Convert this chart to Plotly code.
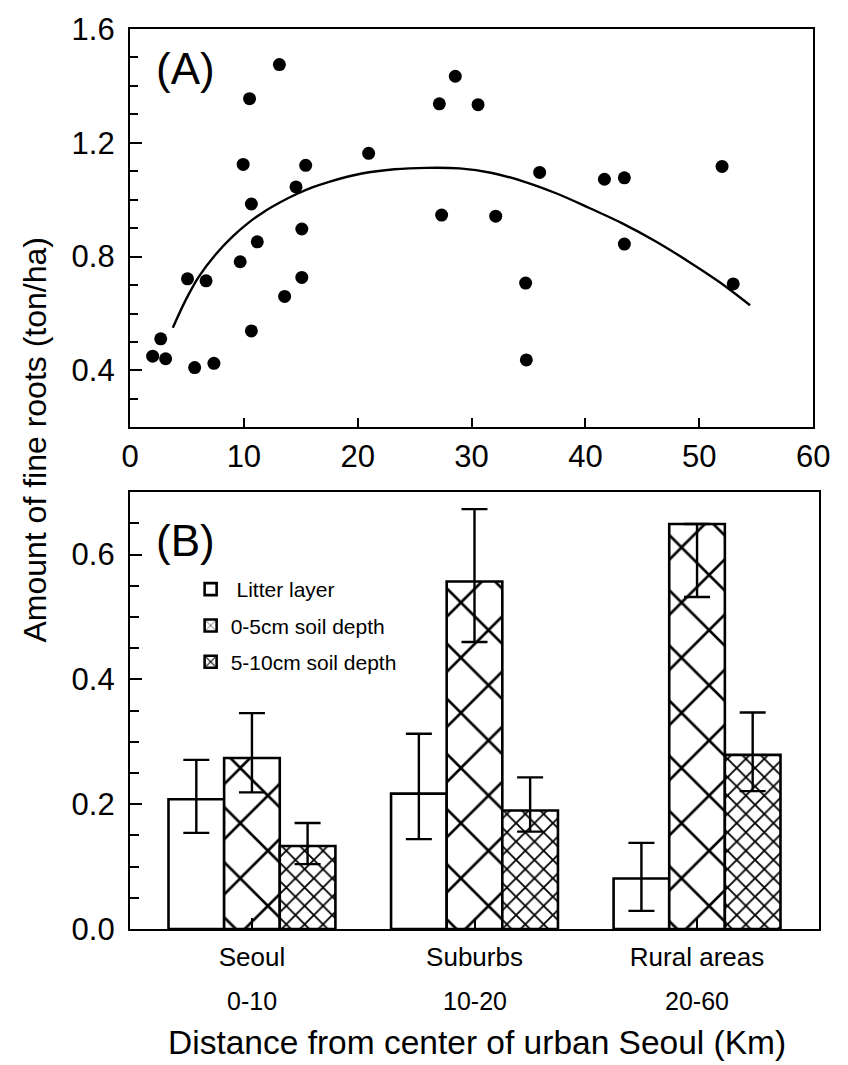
import plotly.graph_objects as go

# ---------------- Panel A data ----------------
dist_km = [1.99, 2.70, 3.13, 5.05, 5.68, 6.68, 7.37, 9.68, 9.94, 10.5, 10.66, 10.66,
           11.18, 13.12, 13.58, 14.58, 15.09, 15.09, 15.43, 20.96, 27.17, 27.37,
           28.57, 30.57, 32.12, 34.75, 34.81, 35.98, 41.67, 43.42, 43.42, 52.0, 52.98]
fine_roots = [0.450, 0.511, 0.441, 0.722, 0.410, 0.715, 0.425, 0.782, 1.124, 1.355,
              0.985, 0.539, 0.852, 1.475, 0.660, 1.045, 0.897, 0.727, 1.121, 1.163,
              1.337, 0.946, 1.434, 1.334, 0.942, 0.707, 0.437, 1.096, 1.072, 1.077,
              0.844, 1.117, 0.704]

curve_x = [3.76, 4.91, 6.05, 7.48, 8.91, 10.34, 11.78, 13.2, 14.64, 16.07, 17.49,
           20.36, 23.22, 26.08, 28.94, 31.8, 34.66, 37.53, 40.39, 43.24, 46.11,
           48.97, 51.83, 54.46]
curve_y = [0.550, 0.649, 0.730, 0.806, 0.867, 0.917, 0.958, 0.991, 1.020, 1.044,
           1.063, 1.092, 1.107, 1.112, 1.110, 1.094, 1.063, 1.021, 0.970, 0.917,
           0.855, 0.785, 0.709, 0.629]

# ---------------- Panel B data ----------------
categories = ["Seoul", "Suburbs", "Rural areas"]
ranges_km = ["0-10", "10-20", "20-60"]
series_names = [" Litter layer", "0-5cm soil depth", "5-10cm soil depth"]
litter = [0.208, 0.217, 0.081]
litter_hi = [0.271, 0.313, 0.138]
litter_lo = [0.154, 0.144, 0.029]
soil05 = [0.274, 0.557, 0.649]
soil05_hi = [0.346, 0.673, 0.649]
soil05_lo = [0.219, 0.460, 0.532]
soil510 = [0.133, 0.190, 0.279]
soil510_hi = [0.170, 0.243, 0.347]
soil510_lo = [0.104, 0.156, 0.221]

FONT = "Liberation Sans, Arial, Helvetica, sans-serif"

fig = go.Figure()

fig.add_trace(go.Scatter(x=dist_km, y=fine_roots, mode="markers",
                         marker=dict(color="black", size=13),
                         xaxis="x", yaxis="y", showlegend=False))
fig.add_trace(go.Scatter(x=curve_x, y=curve_y, mode="lines",
                         line=dict(color="black", width=2.4, shape="spline"),
                         xaxis="x", yaxis="y", showlegend=False))

xcat = list(range(len(categories)))
patterns = [dict(shape=""),
            dict(shape="x", size=39, solidity=0.13, fgcolor="black", bgcolor="white",
                 fgopacity=1),
            dict(shape="x", size=13, solidity=0.26, fgcolor="black", bgcolor="white",
                 fgopacity=1)]
vals = [litter, soil05, soil510]
his = [litter_hi, soil05_hi, soil510_hi]
los = [litter_lo, soil05_lo, soil510_lo]
for i, (name, v, hi, lo, pat) in enumerate(zip(series_names, vals, his, los, patterns)):
    fig.add_trace(go.Bar(
        x=xcat, y=v, name=name, xaxis="x2", yaxis="y2", legendgroup=f"g{i}",
        marker=dict(color="white", line=dict(color="black", width=2.6), pattern=pat),
        error_y=dict(type="data", symmetric=False,
                     array=[h - m for h, m in zip(hi, v)],
                     arrayminus=[m - l for m, l in zip(v, lo)],
                     color="black", thickness=2.4, width=13),
    ))

axis_common = dict(showline=True, linecolor="black", linewidth=2.2, mirror=True,
                   ticks="inside", tickcolor="black", tickwidth=2,
                   showgrid=False, zeroline=False,
                   tickfont=dict(family=FONT, size=31, color="black"))

fig.update_layout(
    width=848, height=1065,
    margin=dict(l=130, r=13, t=23, b=136),
    paper_bgcolor="white", plot_bgcolor="white",
    font=dict(family=FONT, color="black"),
    barmode="group", bargap=0.25, bargroupgap=0,
    xaxis=dict(domain=[0, 0.9915], anchor="y", range=[0, 60], dtick=10, ticklen=9,
               ticklabelstandoff=0, **axis_common),
    yaxis=dict(domain=[0.5574, 1.0], anchor="x", range=[0.2, 1.6], tick0=0.4, dtick=0.4,
               ticklen=12, tickformat=".1f", ticklabelstandoff=7,
               minor=dict(dtick=0.1, tick0=0.2, ticks="inside", ticklen=8,
                          tickcolor="black", tickwidth=2),
               **axis_common),
    xaxis2=dict(domain=[0, 1.0], anchor="y2", range=[-0.548, 2.548],
                tickvals=xcat, ticktext=categories, ticklen=11,
                ticklabelstandoff=4,
                **{**axis_common, "tickfont": dict(family=FONT, size=26, color="black")}),
    yaxis2=dict(domain=[0, 0.4853], anchor="x2", range=[0, 0.7], tick0=0, dtick=0.2,
                ticklen=12, tickformat=".1f", ticklabelstandoff=7,
                minor=dict(dtick=0.05, tick0=0, ticks="inside", ticklen=9,
                           tickcolor="black", tickwidth=2),
                **axis_common),
    legend=dict(x=0.088, y=0.400, xanchor="left", yanchor="top",
                font=dict(family=FONT, size=21, color="black"),
                traceorder="grouped", tracegroupgap=6,
                bgcolor="rgba(0,0,0,0)", itemclick=False),
)

annotations = [
    dict(text="(A)", xref="paper", yref="paper", x=0.081, y=0.956,
         xanchor="center", yanchor="middle",
         showarrow=False, font=dict(family=FONT, size=44, color="black")),
    dict(text="(B)", xref="paper", yref="paper", x=0.081, y=0.432,
         xanchor="center", yanchor="middle",
         showarrow=False, font=dict(family=FONT, size=44, color="black")),
    dict(text="Amount of fine roots (ton/ha)", xref="paper", yref="paper",
         x=-0.1376, y=0.544, textangle=-90, xanchor="center", yanchor="middle",
         showarrow=False, font=dict(family=FONT, size=32, color="black")),
    dict(text="Distance from center of urban Seoul (Km)", xref="paper", yref="paper",
         x=0.503, y=-0.126, xanchor="center", yanchor="middle", showarrow=False,
         font=dict(family=FONT, size=33.5, color="black")),
]
for i, r in zip(xcat, ranges_km):
    annotations.append(dict(text=r, xref="x2", yref="paper", x=i, y=-0.0795,
                            xanchor="center", yanchor="middle", showarrow=False,
                            font=dict(family=FONT, size=25, color="black")))
fig.update_layout(annotations=annotations)

fig.write_html("out.html", config={"displayModeBar": False},
               post_script="document.body.style.margin='0px';document.body.style.overflow='hidden';")
